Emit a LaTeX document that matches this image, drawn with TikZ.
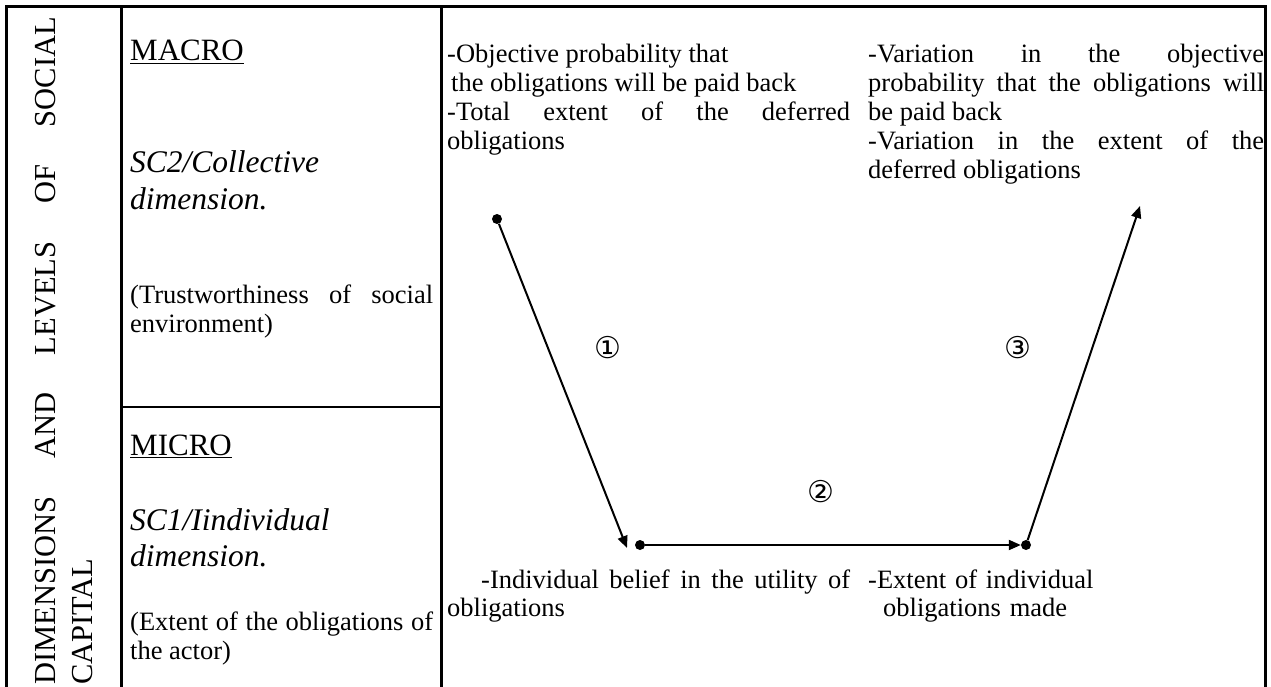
\documentclass[tikz,border=0pt]{standalone}
\usepackage{fontspec}
\setmainfont{Liberation Serif}
\newfontfamily\circfont{DejaVu Sans}
\usetikzlibrary{arrows.meta}
\hyphenpenalty=10000
\exhyphenpenalty=10000
\tolerance=10000
\hbadness=10000
\begin{document}
\begin{tikzpicture}[x=1pt,y=-1pt,
  frameline/.style={line width=2.8pt},
  txt/.style={inner sep=0pt, anchor=base west},
  vtext/.style={txt, font=\fontsize{30.5}{37}\selectfont, text width=668pt, align=justify, rotate=90},
  head/.style={txt, font=\fontsize{31}{36}\selectfont},
  ital/.style={txt, font=\fontsize{31.5}{36}\selectfont\itshape, text width=303pt, align=left},
  body/.style={txt, font=\fontsize{26.5}{29}\selectfont},
  dot/.style={circle, fill=black, inner sep=0pt, minimum size=10pt},
  arr/.style={line width=2pt, -{Triangle[length=12pt,width=10pt]}},
  circnum/.style={inner sep=0pt, font=\circfont\fontsize{30}{30}\selectfont}
]
\useasboundingbox (0,0) rectangle (1271,687);
\fill[white] (0,0) rectangle (1271,687);
\clip (0,0) rectangle (1271,687);

% frame
\draw[frameline] (6.5,700) -- (6.5,6.5) -- (1265.5,6.5) -- (1265.5,700);
\draw[frameline] (121.5,6.5) -- (121.5,700);
\draw[frameline] (441.5,6.5) -- (441.5,700);
\draw[frameline] (121.5,407) -- (441.5,407);

% vertical title
\begin{scope}
  \clip (8,8) rectangle (120,687);
  \node[vtext] (title) at (55,685) {DIMENSIONS AND LEVELS OF SOCIAL\linebreak CAPITAL};
\end{scope}

% left panel
\node[head] (macro) at (130,61) {\underline{MACRO}};
\node[ital] (sc2) at (130,173) {SC2/Collective\\dimension.};
\node[body, text width=303pt, align=justify] (trust) at (130,303) {(Trustworthiness of social\linebreak environment)};
\node[head] (micro) at (130,455) {\underline{MICRO}};
\node[ital] (sc1) at (130,530) {SC1/Iindividual\\dimension.};
\node[body, text width=303pt, align=justify] (extent) at (130,630) {(Extent of the obligations of\linebreak the actor)};

% right panel texts
\node[body, text width=403pt, align=justify] (tl) at (447,63)
  {-Objective probability that\\\hspace*{4pt}the obligations will be paid back\\-Total extent of the deferred\linebreak obligations};
\node[body, text width=396pt, align=justify] (tr) at (868,63)
  {-Variation in the objective\linebreak probability that the obligations will\linebreak be paid back\\-Variation in the extent of the\linebreak deferred obligations};
\node[body, font=\fontsize{26.5}{28}\selectfont, text width=403pt, align=justify] (bl) at (447,588)
  {\hspace*{34pt}-Individual belief in the utility of\linebreak obligations};
\node[body, font=\fontsize{26.5}{28}\selectfont, text width=396pt, align=left] (br) at (868,588)
  {-Extent of individual\\\hspace*{15pt}obligations made};

% points and arrows
\node[dot] (A) at (497,219) {};
\node[dot] (B) at (640,545) {};
\node[dot] (C) at (1026,545) {};
\coordinate (tipA) at (627,548);
\coordinate (tipC) at (1140,206);
\draw[arr] (A) -- (tipA);
\draw[arr] (B) -- (C);
\draw[arr] (C) -- (tipC);

\node[circnum] (n1) at (608,348) {①};
\node[circnum] (n2) at (821,492) {②};
\node[circnum] (n3) at (1018,348) {③};
\end{tikzpicture}
\end{document}
